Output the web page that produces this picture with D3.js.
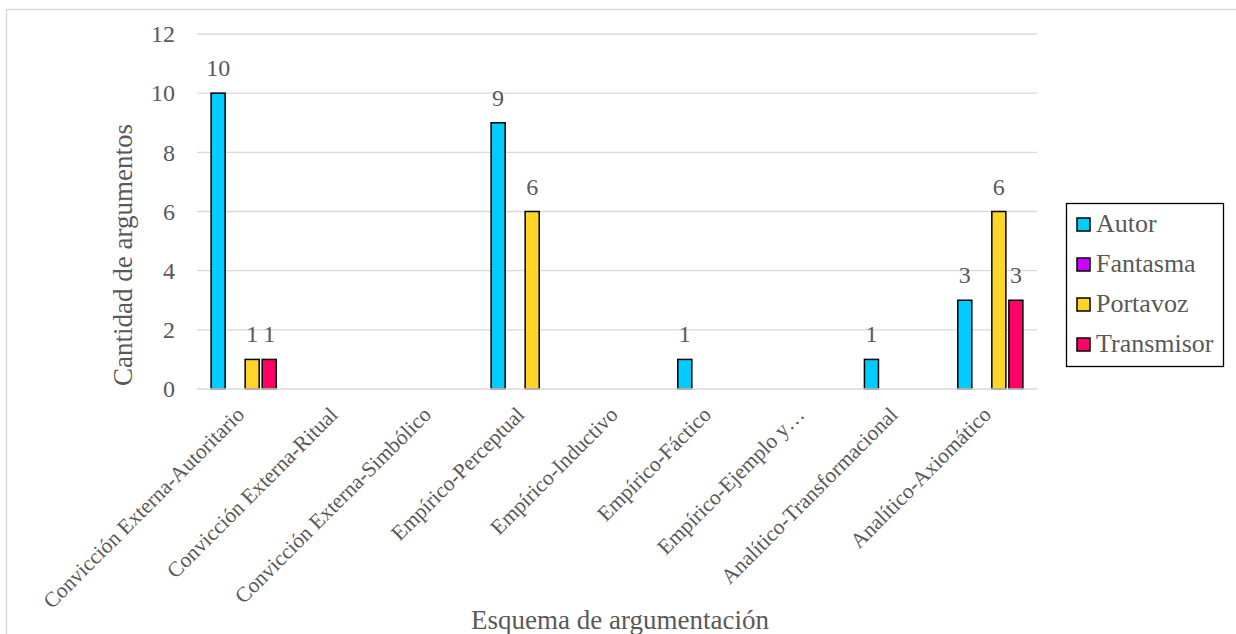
<!DOCTYPE html>
<html>
<head>
<meta charset="utf-8">
<script src="https://cdn.jsdelivr.net/npm/d3@7/dist/d3.min.js"></script>
<style>
  html, body { margin: 0; padding: 0; background: #fff; }
  svg { display: block; }
</style>
</head>
<body>
<svg id="chart" width="1236" height="634"></svg>
<script>
// Argumentation schemes (x categories)
const categories = [
  "Convicción Externa-Autoritario",
  "Convicción Externa-Ritual",
  "Convicción Externa-Simbólico",
  "Empírico-Perceptual",
  "Empírico-Inductivo",
  "Empírico-Fáctico",
  "Empírico-Ejemplo y…",
  "Analítico-Transformacional",
  "Analítico-Axiomático"
];

// Series names and their counts per scheme
const seriesNames = ["Autor", "Fantasma", "Portavoz", "Transmisor"];
const autor      = [10, 0, 0, 9, 0, 1, 0, 1, 3];
const fantasma   = [0, 0, 0, 0, 0, 0, 0, 0, 0];
const portavoz   = [1, 0, 0, 6, 0, 0, 0, 0, 6];
const transmisor = [1, 0, 0, 0, 0, 0, 0, 0, 3];
const seriesValues = [autor, fantasma, portavoz, transmisor];
const seriesColors = ["#00CCFF", "#CC00FF", "#FFD52A", "#FF0066"];

const yTicks = [0, 2, 4, 6, 8, 10, 12];

const FONT = "'Liberation Serif', 'Times New Roman', serif";
const TEXT = "#595959";
const txt = (sel, size) => sel.attr("font-family", FONT).style("font-family", FONT)
  .style("font-size", size + "px").attr("fill", TEXT);

const svg = d3.select("#chart");

// outer chart border
svg.append("rect")
  .attr("x", 6.5).attr("y", 9.5)
  .attr("width", 1300).attr("height", 700)
  .attr("fill", "none").attr("stroke", "#d9d9d9").attr("stroke-width", 1.5);

const plot = { left: 197, right: 1037, top: 34, bottom: 389 };

const y = d3.scaleLinear().domain([0, 12]).range([plot.bottom, plot.top]);
const x0 = d3.scaleBand().domain(categories)
  .range([plot.left, plot.right]).paddingInner(0.27).paddingOuter(0.135);
const x1 = d3.scaleBand().domain(seriesNames)
  .range([0, x0.bandwidth()]).paddingInner(0.176).paddingOuter(0.088);

// gridlines
svg.append("g").selectAll("line")
  .data(yTicks.filter(t => t > 0))
  .join("line")
  .attr("x1", plot.left).attr("x2", plot.right)
  .attr("y1", d => y(d)).attr("y2", d => y(d))
  .attr("stroke", "#d9d9d9").attr("stroke-width", 1.3);

// y axis labels
const yAxis = d3.axisLeft(y).tickValues(yTicks).tickSize(0).tickPadding(22).tickFormat(d3.format("d"));
const yg = svg.append("g").attr("transform", `translate(${plot.left},0)`).call(yAxis);
yg.select(".domain").remove();
txt(yg.selectAll("text"), 24);

// bars
const groups = svg.append("g").selectAll("g")
  .data(categories)
  .join("g")
  .attr("transform", d => `translate(${x0(d)},0)`);

groups.each(function(c, i) {
  const g = d3.select(this);
  const data = seriesNames.map((s, k) => ({ s, k, v: seriesValues[k][i] })).filter(d => d.v > 0);
  g.selectAll("rect")
    .data(data)
    .join("rect")
    .attr("x", d => x1(d.s))
    .attr("y", d => y(d.v))
    .attr("width", x1.bandwidth())
    .attr("height", d => y(0) - y(d.v))
    .attr("fill", d => seriesColors[d.k])
    .attr("stroke", "#000").attr("stroke-width", 1.5);
  txt(g.selectAll("text.val")
    .data(data)
    .join("text")
    .attr("class", "val")
    .attr("x", d => x1(d.s) + x1.bandwidth() / 2)
    .attr("y", d => y(d.v) - 17)
    .attr("text-anchor", "middle")
    .text(d => d.v), 24);
});

// x axis baseline
svg.append("line")
  .attr("x1", plot.left).attr("x2", plot.right)
  .attr("y1", y(0)).attr("y2", y(0))
  .attr("stroke", "#d9d9d9").attr("stroke-width", 1.5);

// x axis tick labels, rotated
const xAxis = d3.axisBottom(x0).tickSize(0).tickPadding(0);
const xg = svg.append("g").attr("transform", `translate(0,${plot.bottom})`).call(xAxis);
xg.select(".domain").remove();
txt(xg.selectAll("text"), 21.5)
  .attr("text-anchor", "end")
  .attr("dy", 0)
  .attr("transform", "translate(2,27) rotate(-45)");

// axis titles
txt(svg.append("text")
  .attr("x", 620).attr("y", 629)
  .attr("text-anchor", "middle")
  .text("Esquema de argumentación"), 27);

txt(svg.append("text")
  .attr("transform", `translate(132,255) rotate(-90)`)
  .attr("text-anchor", "middle")
  .text("Cantidad de argumentos"), 27);

// legend
const legend = svg.append("g").attr("transform", "translate(1066,203)");
legend.append("rect")
  .attr("x", 0.5).attr("y", 0.5).attr("width", 157).attr("height", 163)
  .attr("fill", "#fff").attr("stroke", "#000").attr("stroke-width", 1.3);
const items = legend.selectAll("g.item")
  .data(seriesNames)
  .join("g")
  .attr("class", "item")
  .attr("transform", (d, i) => `translate(11,${29 + i * 40})`);
items.append("rect")
  .attr("x", 0).attr("y", -14).attr("width", 13).attr("height", 13)
  .attr("fill", (d, i) => seriesColors[i])
  .attr("stroke", "#000").attr("stroke-width", 1.5);
txt(items.append("text")
  .attr("x", 19).attr("y", 0)
  .text(d => d), 26);
</script>
</body>
</html>
